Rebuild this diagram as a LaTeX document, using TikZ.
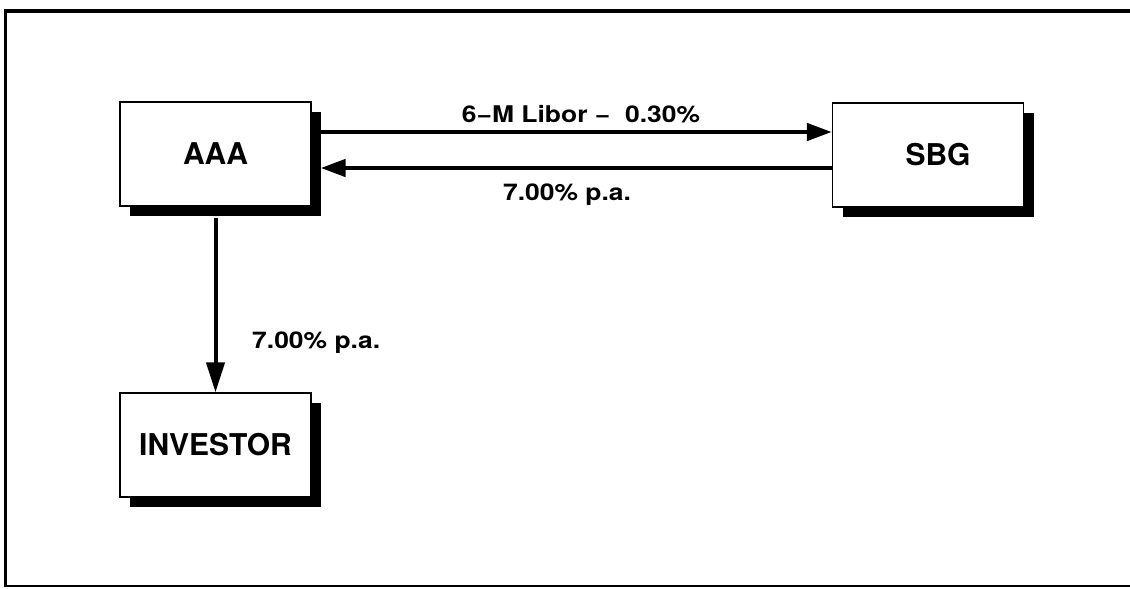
\documentclass[tikz,border=0pt]{standalone}
\usepackage{fontspec}
\setmainfont{TeX Gyre Heros}
\newfontfamily\lblfont[FakeStretch=1.15]{TeX Gyre Heros}
\usetikzlibrary{arrows.meta,shadows}
\tikzset{
  box/.style={draw=black,line width=1.2pt,fill=white,minimum width=191pt,minimum height=104pt,inner sep=0pt,
    font=\fontsize{30}{32}\selectfont\bfseries,
    drop shadow={shadow xshift=10pt,shadow yshift=-10pt,fill=black,opacity=1}},
  flow/.style={line width=4.5pt,-{Triangle[length=25pt,width=17pt]}},
  vflow/.style={line width=4pt,-{Triangle[length=30pt,width=18pt]}},
  lbl/.style={font=\lblfont\fontsize{23}{25}\selectfont\bfseries,inner sep=0pt}
}
\begin{document}
\begin{tikzpicture}[x=1pt,y=-1pt]
\useasboundingbox (0,0) rectangle (1130,589);
% frame
\draw[line width=4pt] (4,11) -- (1130,11);
\draw[line width=3pt] (5.5,9) -- (5.5,587);
\draw[line width=2pt] (4,586) -- (1130,586);
% boxes
\node[box] (AAA) at (215.5,154) {AAA};
\node[box] (SBG) at (928,155) {\hspace*{20pt}SBG};
\node[box] (INV) at (215.5,445) {INVESTOR};
% connectors
\coordinate (a1) at ([xshift=9pt,yshift=22pt]AAA.east);
\coordinate (s1) at (a1 -| SBG.west);
\coordinate (s2) at ([yshift=-13pt]SBG.west);
\coordinate (a2) at (s2 -| a1);
\draw[flow] (a1) -- (s1);
\draw[flow] (s2) -- (a2);
\draw[vflow] ([yshift=-11pt]AAA.south) -- (INV.north);
% labels
\node[lbl,anchor=base] (l1) at (581,122) {6−M Libor − \ 0.30\%};
\node[lbl,anchor=base] (l2) at (567,200) {7.00\% p.a.};
\node[lbl,anchor=base west] (l3) at (252,348) {7.00\% p.a.};
\end{tikzpicture}
\end{document}
